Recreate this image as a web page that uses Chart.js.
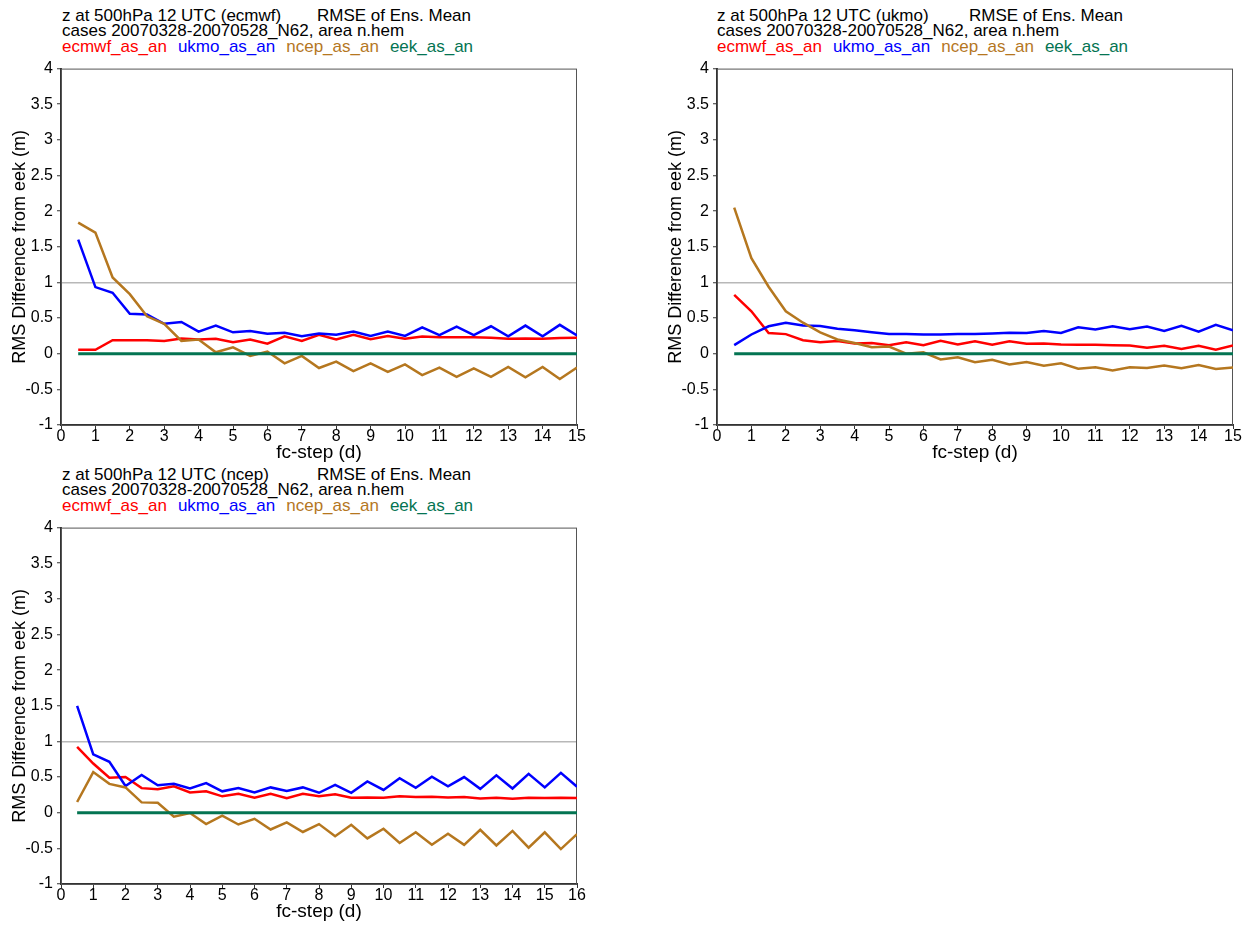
<!DOCTYPE html>
<html>
<head>
<meta charset="utf-8">
<script src="https://cdn.jsdelivr.net/npm/chart.js@4.4.0/dist/chart.umd.min.js"></script>
<style>
    body { margin: 0; width: 1250px; height: 927px; overflow: hidden; background: #fff; position: relative;
           font-family: "Liberation Sans", Arial, sans-serif; }
    .txt { position: absolute; font-size: 17px; line-height: 17px; white-space: pre; color: #000; }
    .leg { margin-left: 11px; }
    canvas { position: absolute; }
</style>
</head>
<body>

<!-- panel 1 titles -->
<div class="txt" style="left:62px;top:7px">z at 500hPa 12 UTC (ecmwf)</div>
<div class="txt" style="left:317px;top:7px">RMSE of Ens. Mean</div>
<div class="txt" style="left:62px;top:22px">cases 20070328-20070528_N62, area n.hem</div>
<div class="txt" style="left:62px;top:38px"><span style="color:#ff0000">ecmwf_as_an</span><span class="leg" style="color:#0000ff">ukmo_as_an</span><span class="leg" style="color:#b5771f">ncep_as_an</span><span class="leg" style="color:#047452">eek_as_an</span></div>

<!-- panel 2 titles -->
<div class="txt" style="left:717px;top:7px">z at 500hPa 12 UTC (ukmo)</div>
<div class="txt" style="left:969px;top:7px">RMSE of Ens. Mean</div>
<div class="txt" style="left:717px;top:22px">cases 20070328-20070528_N62, area n.hem</div>
<div class="txt" style="left:717px;top:38px"><span style="color:#ff0000">ecmwf_as_an</span><span class="leg" style="color:#0000ff">ukmo_as_an</span><span class="leg" style="color:#b5771f">ncep_as_an</span><span class="leg" style="color:#047452">eek_as_an</span></div>

<!-- panel 3 titles -->
<div class="txt" style="left:62px;top:466px">z at 500hPa 12 UTC (ncep)</div>
<div class="txt" style="left:317px;top:466px">RMSE of Ens. Mean</div>
<div class="txt" style="left:62px;top:481px">cases 20070328-20070528_N62, area n.hem</div>
<div class="txt" style="left:62px;top:497px"><span style="color:#ff0000">ecmwf_as_an</span><span class="leg" style="color:#0000ff">ukmo_as_an</span><span class="leg" style="color:#b5771f">ncep_as_an</span><span class="leg" style="color:#047452">eek_as_an</span></div>

<canvas id="chartEcmwf" style="left:0px;top:55px"></canvas>
<canvas id="chartUkmo" style="left:656px;top:55px"></canvas>
<canvas id="chartNcep" style="left:0px;top:514px"></canvas>

<script>
// forecast steps (days)
const steps15 = [0.5, 1, 1.5, 2, 2.5, 3, 3.5, 4, 4.5, 5, 5.5, 6, 6.5, 7, 7.5, 8, 8.5, 9, 9.5, 10,
                 10.5, 11, 11.5, 12, 12.5, 13, 13.5, 14, 14.5, 15];
const steps16 = [0.5, 1, 1.5, 2, 2.5, 3, 3.5, 4, 4.5, 5, 5.5, 6, 6.5, 7, 7.5, 8, 8.5, 9, 9.5, 10,
                 10.5, 11, 11.5, 12, 12.5, 13, 13.5, 14, 14.5, 15, 15.5, 16];

// panel 1 : (ecmwf)
const ecmwfA = [0.055, 0.055, 0.19, 0.19, 0.19, 0.18, 0.215, 0.20, 0.21, 0.16, 0.20, 0.14, 0.245, 0.18, 0.265,
                0.20, 0.265, 0.205, 0.25, 0.21, 0.24, 0.23, 0.23, 0.23, 0.225, 0.21, 0.215, 0.21, 0.22, 0.225];
const ukmoA  = [1.60, 0.935, 0.855, 0.56, 0.55, 0.42, 0.445, 0.31, 0.395, 0.30, 0.32, 0.28, 0.295, 0.245, 0.285,
                0.265, 0.31, 0.25, 0.31, 0.25, 0.37, 0.26, 0.38, 0.26, 0.385, 0.245, 0.395, 0.245, 0.405, 0.255];
const ncepA  = [1.84, 1.70, 1.07, 0.835, 0.525, 0.42, 0.18, 0.20, 0.02, 0.09, -0.03, 0.03, -0.135, -0.03, -0.20,
                -0.11, -0.245, -0.135, -0.255, -0.15, -0.30, -0.195, -0.325, -0.205, -0.325, -0.185, -0.33, -0.185, -0.355, -0.195];
const eekA   = [0, 0, 0, 0, 0, 0, 0, 0, 0, 0, 0, 0, 0, 0, 0, 0, 0, 0, 0, 0, 0, 0, 0, 0, 0, 0, 0, 0, 0, 0];

// panel 2 : (ukmo)
const ecmwfB = [0.825, 0.595, 0.29, 0.275, 0.19, 0.16, 0.18, 0.145, 0.15, 0.12, 0.16, 0.12, 0.18, 0.13, 0.175,
                0.125, 0.175, 0.14, 0.145, 0.13, 0.125, 0.125, 0.12, 0.115, 0.085, 0.11, 0.065, 0.11, 0.055, 0.115];
const ukmoB  = [0.12, 0.27, 0.385, 0.435, 0.395, 0.39, 0.35, 0.33, 0.30, 0.275, 0.275, 0.27, 0.27, 0.275, 0.275,
                0.285, 0.295, 0.29, 0.32, 0.29, 0.37, 0.34, 0.385, 0.345, 0.38, 0.32, 0.39, 0.31, 0.405, 0.33];
const ncepB  = [2.05, 1.34, 0.94, 0.595, 0.435, 0.30, 0.20, 0.15, 0.09, 0.10, 0.0, 0.02, -0.08, -0.05, -0.12,
                -0.085, -0.15, -0.115, -0.17, -0.135, -0.21, -0.19, -0.235, -0.19, -0.20, -0.165, -0.205, -0.16, -0.215, -0.195];
const eekB   = [0, 0, 0, 0, 0, 0, 0, 0, 0, 0, 0, 0, 0, 0, 0, 0, 0, 0, 0, 0, 0, 0, 0, 0, 0, 0, 0, 0, 0, 0];

// panel 3 : (ncep)
const ecmwfC = [0.925, 0.69, 0.49, 0.50, 0.345, 0.33, 0.37, 0.285, 0.30, 0.23, 0.265, 0.21, 0.265, 0.205, 0.265, 0.23,
                0.26, 0.21, 0.215, 0.21, 0.23, 0.22, 0.225, 0.215, 0.22, 0.20, 0.21, 0.195, 0.21, 0.205, 0.21, 0.205];
const ukmoC  = [1.50, 0.82, 0.715, 0.375, 0.53, 0.385, 0.405, 0.34, 0.415, 0.30, 0.345, 0.285, 0.355, 0.305, 0.355, 0.28,
                0.39, 0.28, 0.44, 0.32, 0.485, 0.35, 0.505, 0.37, 0.50, 0.335, 0.525, 0.34, 0.545, 0.355, 0.56, 0.365];
const ncepC  = [0.15, 0.57, 0.405, 0.355, 0.145, 0.14, -0.055, -0.005, -0.16, -0.04, -0.165, -0.085, -0.235, -0.135, -0.27, -0.16,
                -0.33, -0.17, -0.36, -0.225, -0.425, -0.275, -0.45, -0.295, -0.45, -0.24, -0.46, -0.255, -0.49, -0.275, -0.51, -0.30];
const eekC   = [0, 0, 0, 0, 0, 0, 0, 0, 0, 0, 0, 0, 0, 0, 0, 0, 0, 0, 0, 0, 0, 0, 0, 0, 0, 0, 0, 0, 0, 0, 0, 0];

const seriesNames  = ['ecmwf_as_an', 'ukmo_as_an', 'ncep_as_an', 'eek_as_an'];
const seriesColors = ['#ff0000', '#0000ff', '#b5771f', '#047452'];

// thin box around the plot area
const cadre = {
    id: 'cadre',
    beforeDatasetsDraw(chart) {
        const { ctx, chartArea: a } = chart;
        ctx.save();
        ctx.strokeStyle = '#555';
        ctx.lineWidth = 1;
        ctx.strokeRect(a.left + 0.5, a.top + 0.5, a.right - a.left - 1, a.bottom - a.top);
        ctx.restore();
    }
};

function loadChartPanel(canvasId, steps, xMax, series) {
    const canvas = document.getElementById(canvasId);
    canvas.width = 600;
    canvas.height = 415;

    const tickFont = { family: '"Liberation Sans", Arial, sans-serif', size: 16 };

    const datasets = series.map((values, i) => ({
        label: seriesNames[i],
        data: steps.map((x, j) => ({ x: x, y: values[j] })),
        borderColor: seriesColors[i],
        backgroundColor: seriesColors[i],
        borderWidth: i === 3 ? 3 : 2.5,
        pointRadius: 0,
        tension: 0,
        order: 4 - i
    }));

    return new Chart(canvas, {
        type: 'line',
        data: { datasets: datasets },
        plugins: [cadre],
        options: {
            responsive: false,
            animation: false,
            layout: { padding: { top: 9, right: 23, left: 0, bottom: 0 } },
            plugins: {
                legend: { display: false },
                tooltip: { enabled: false }
            },
            scales: {
                x: {
                    type: 'linear',
                    min: 0,
                    max: xMax,
                    ticks: { stepSize: 1, font: tickFont, color: '#000', padding: -2, maxRotation: 0, autoSkip: false },
                    grid: { drawOnChartArea: false, color: '#333', tickColor: '#333', tickLength: 4 },
                    border: { color: '#333', width: 2 },
                    title: {
                        display: true, text: 'fc-step (d)', color: '#000', padding: { top: 0, bottom: 6 },
                        font: { family: '"Liberation Sans", Arial, sans-serif', size: 19 }
                    },
                    afterFit: function(scale) { scale.height = 45; }
                },
                y: {
                    min: -1,
                    max: 4,
                    ticks: {
                        stepSize: 0.5, font: tickFont, color: '#000', padding: 4,
                        callback: function(value) { return String(value); }
                    },
                    grid: {
                        color: function(ctx) { return ctx.tick && ctx.tick.value === 1 ? '#b8b8b8' : 'rgba(0,0,0,0)'; },
                        lineWidth: 1.5,
                        tickColor: '#333',
                        tickWidth: 1,
                        tickLength: 4
                    },
                    border: { color: '#333', width: 2 },
                    title: {
                        display: true, text: 'RMS Difference from eek (m)', color: '#000', padding: { top: 9, bottom: 0 },
                        font: { family: '"Liberation Sans", Arial, sans-serif', size: 18 }
                    },
                    afterFit: function(scale) { scale.width = 61; }
                }
            }
        }
    });
}

loadChartPanel('chartEcmwf', steps15, 15, [ecmwfA, ukmoA, ncepA, eekA]);
loadChartPanel('chartUkmo', steps15, 15, [ecmwfB, ukmoB, ncepB, eekB]);
loadChartPanel('chartNcep', steps16, 16, [ecmwfC, ukmoC, ncepC, eekC]);
</script>
</body>
</html>
